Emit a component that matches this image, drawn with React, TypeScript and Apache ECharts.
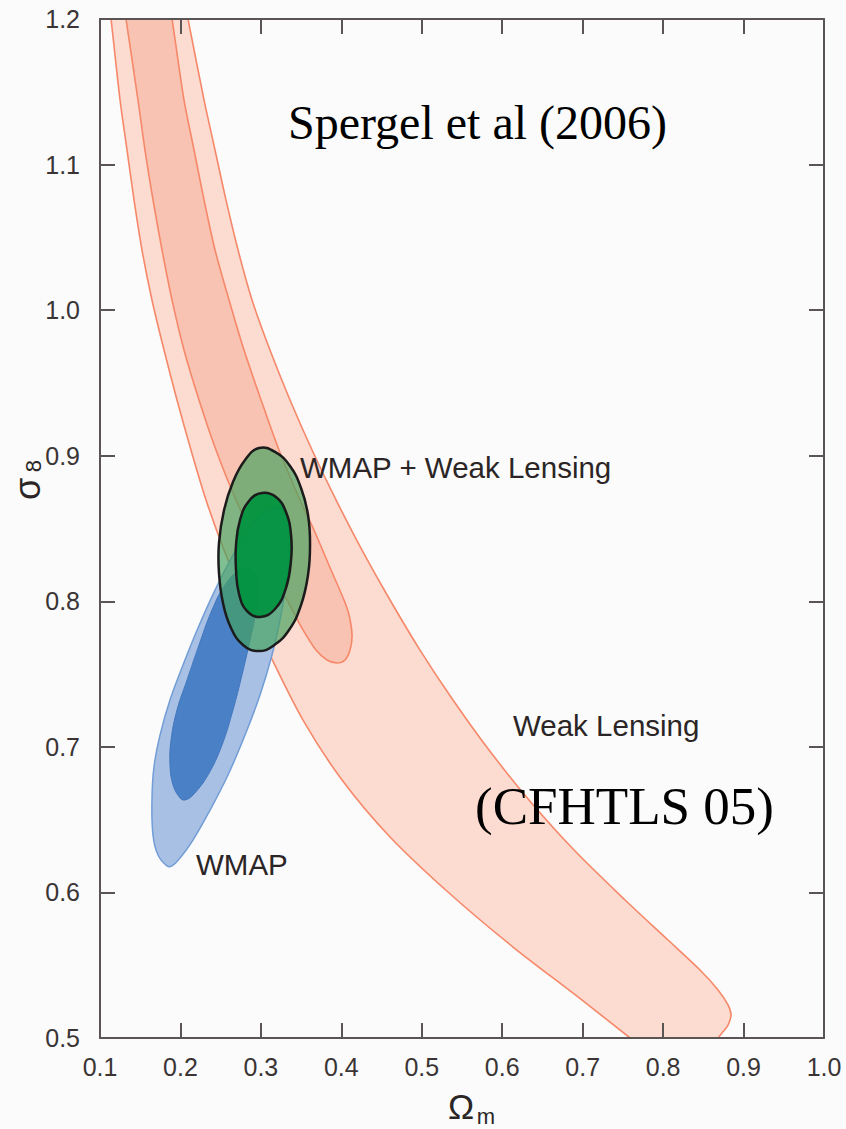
import React, { useEffect, useRef } from "react";
import * as echarts from "echarts";

// Axis ranges and ticks
const X_MIN = 0.1;
const X_MAX = 1.0;
const Y_MIN = 0.5;
const Y_MAX = 1.2;
const TICK_STEP = 0.1;

// Contours: [Omega_m, sigma_8]
const weakLensingOuter: [number, number][] = [
  // lower/left edge, top to bottom
  [0.1075, 1.2268], [0.1137, 1.2], [0.1249, 1.1444], [0.1336, 1.11], [0.1423, 1.0757],
  [0.1522, 1.0413], [0.1646, 1.007], [0.1796, 0.9726], [0.1957, 0.9383], [0.2131, 0.9039],
  [0.2318, 0.8696], [0.2542, 0.8352], [0.2803, 0.8009], [0.3113, 0.7631], [0.3524, 0.7184],
  [0.4009, 0.6772], [0.4605, 0.6381], [0.5339, 0.5996], [0.6134, 0.5625], [0.6942, 0.5282],
  [0.7589, 0.5], [0.7937, 0.4849],
  // upper/right edge, bottom to top
  [0.8583, 0.4849], [0.8683, 0.5], [0.8732, 0.5034], [0.8807, 0.5089], [0.8844, 0.5158],
  [0.8807, 0.5227], [0.8683, 0.533], [0.8459, 0.5467], [0.8061, 0.5673], [0.7527, 0.5948],
  [0.6893, 0.6291], [0.6333, 0.6635], [0.5836, 0.6978], [0.5388, 0.7322], [0.4978, 0.7665],
  [0.4605, 0.8009], [0.4257, 0.8352], [0.3934, 0.8696], [0.3636, 0.9039], [0.3362, 0.9383],
  [0.3113, 0.9726], [0.289, 1.007], [0.2716, 1.0413], [0.2566, 1.0757], [0.243, 1.11],
  [0.2293, 1.1444], [0.2094, 1.2], [0.1995, 1.2268],
];

const weakLensingInner: [number, number][] = [
  [0.1249, 1.2268], [0.1323, 1.2], [0.1472, 1.1444], [0.1559, 1.11], [0.1659, 1.0757],
  [0.1771, 1.0413], [0.1895, 1.007], [0.2044, 0.9726], [0.2231, 0.9383], [0.2442, 0.9039],
  [0.2691, 0.8696], [0.2989, 0.8352], [0.3325, 0.8009], [0.3524, 0.7803], [0.3685, 0.7665],
  [0.3822, 0.7597], [0.3946, 0.7576], [0.4046, 0.7597], [0.4108, 0.7665], [0.4133, 0.7768],
  [0.4096, 0.7906], [0.4033, 0.8009], [0.3872, 0.8215], [0.366, 0.849], [0.3486, 0.8696],
  [0.3225, 0.9039], [0.3002, 0.9383], [0.279, 0.9726], [0.2604, 1.007], [0.243, 1.0413],
  [0.2293, 1.0757], [0.2169, 1.11], [0.2044, 1.1444], [0.1895, 1.2], [0.1808, 1.2268],
];

const wmapOuter: [number, number][] = [
  [0.1833, 0.6182], [0.1721, 0.6257], [0.1659, 0.6394], [0.1646, 0.6635], [0.1671, 0.6862],
  [0.1746, 0.7081], [0.187, 0.7322], [0.2032, 0.7562], [0.2218, 0.7816], [0.243, 0.8077],
  [0.2653, 0.8318], [0.2865, 0.8503], [0.3051, 0.8613], [0.32, 0.8648], [0.33, 0.8613],
  [0.335, 0.849], [0.335, 0.8318], [0.3312, 0.8112], [0.3238, 0.7871], [0.3138, 0.7631],
  [0.2989, 0.7356], [0.2803, 0.7081], [0.2591, 0.6807], [0.2368, 0.6566], [0.2156, 0.636],
  [0.1995, 0.6236], [0.1895, 0.6182],
];

const wmapInner: [number, number][] = [
  [0.1995, 0.6649], [0.1908, 0.6738], [0.187, 0.6875], [0.1883, 0.7047], [0.1957, 0.7253],
  [0.2082, 0.7459], [0.2231, 0.77], [0.2392, 0.794], [0.2554, 0.8112], [0.274, 0.8215],
  [0.289, 0.8215], [0.2952, 0.8112], [0.2939, 0.794], [0.2865, 0.7734], [0.2765, 0.7494],
  [0.2653, 0.7253], [0.2517, 0.7013], [0.2343, 0.6807], [0.2156, 0.6669], [0.2057, 0.6635],
];

const comboOuter: [number, number][] = [
  [0.2977, 0.9053], [0.3176, 0.9026], [0.3362, 0.8929], [0.3499, 0.8778], [0.3586, 0.8593],
  [0.3611, 0.8387], [0.3586, 0.8181], [0.3499, 0.7974], [0.335, 0.7803], [0.3151, 0.7693],
  [0.2964, 0.7658], [0.2778, 0.77], [0.2629, 0.7816], [0.2529, 0.7988], [0.2479, 0.8194],
  [0.2479, 0.84], [0.2542, 0.8627], [0.2653, 0.8819], [0.2803, 0.8971],
];

const comboInner: [number, number][] = [
  [0.3014, 0.8744], [0.3188, 0.8716], [0.3312, 0.8613], [0.3375, 0.8455], [0.3375, 0.8284],
  [0.3312, 0.8091], [0.3176, 0.7947], [0.2989, 0.7892], [0.2828, 0.7933], [0.2728, 0.805],
  [0.2691, 0.8215], [0.2691, 0.8387], [0.274, 0.8558], [0.2852, 0.8689],
];

const SANS = '"Liberation Sans", Arial, Helvetica, sans-serif';
const SERIF = '"Liberation Serif", "Times New Roman", serif';
const AXIS_COLOR = "#5a5455";
const TEXT_COLOR = "#2b2526";

function polygonSeries(
  name: string,
  pts: [number, number][],
  fill: string,
  stroke: string,
  lineWidth: number,
  smooth: number
) {
  return {
    type: "custom",
    name,
    coordinateSystem: "cartesian2d",
    clip: true,
    data: pts,
    encode: { x: 0, y: 1 },
    renderItem: (params: any, api: any) => {
      if (params.dataIndex !== 0) return null;
      return {
        type: "polygon",
        shape: { points: pts.map((p) => api.coord(p)), smooth },
        style: { fill, stroke, lineWidth },
      };
    },
  };
}

function label(text: string, x: number, y: number, font: string, fill: string, align = "left", rotation = 0) {
  return {
    type: "text",
    x,
    y,
    rotation,
    z: 20,
    style: { text, font, fill, align, verticalAlign: "middle", textAlign: align, textVerticalAlign: "middle" },
  };
}

export default function App() {
  const ref = useRef<HTMLDivElement>(null);

  useEffect(() => {
    const chart = echarts.init(ref.current!, null, { renderer: "svg" });
    const axisLine = { show: true, onZero: false, lineStyle: { color: AXIS_COLOR, width: 2 } };
    const axisTick = { show: true, inside: true, length: 15, lineStyle: { color: AXIS_COLOR, width: 2 } };
    const labelStyle = { color: "#3a3435", fontSize: 25, fontFamily: SANS };
    const fmt = (v: number) => v.toFixed(1);

    chart.setOption({
      animation: false,
      backgroundColor: "#fafbfa",
      grid: { left: 100, right: 22, top: 19, bottom: 91 },
      xAxis: [
        {
          type: "value", min: X_MIN, max: X_MAX, interval: TICK_STEP, position: "bottom",
          axisLine, axisTick, splitLine: { show: false }, z: 10,
          axisLabel: { ...labelStyle, margin: 16, formatter: fmt },
        },
        {
          type: "value", min: X_MIN, max: X_MAX, interval: TICK_STEP, position: "top",
          axisLine, axisTick, splitLine: { show: false }, axisLabel: { show: false }, z: 10,
        },
      ],
      yAxis: [
        {
          type: "value", min: Y_MIN, max: Y_MAX, interval: TICK_STEP, position: "left",
          axisLine, axisTick, splitLine: { show: false }, z: 10,
          axisLabel: { ...labelStyle, margin: 20, formatter: fmt },
        },
        {
          type: "value", min: Y_MIN, max: Y_MAX, interval: TICK_STEP, position: "right",
          axisLine, axisTick, splitLine: { show: false }, axisLabel: { show: false }, z: 10,
        },
      ],
      series: [
        polygonSeries("Weak Lensing 2σ", weakLensingOuter, "#fcdbd0", "#f6886a", 1.6, 0.3),
        polygonSeries("Weak Lensing 1σ", weakLensingInner, "#f8c3b2", "#f6886a", 1.6, 0.3),
        polygonSeries("WMAP 2σ", wmapOuter, "#a8c0e3", "#729dd7", 1.5, 0.4),
        polygonSeries("WMAP 1σ", wmapInner, "#4a80c5", "#4277c0", 1, 0.4),
        polygonSeries("WMAP + WL 2σ", comboOuter, "rgba(70,162,94,0.68)", "#1b1b1b", 2.5, 0.45),
        polygonSeries("WMAP + WL 1σ", comboInner, "rgba(0,146,63,0.92)", "#1b1b1b", 2.5, 0.45),
      ],
      graphic: [
        label("Spergel et al (2006)", 288, 122, `48px ${SERIF}`, "#000"),
        label("(CFHTLS 05)", 475, 806, `53px ${SERIF}`, "#000"),
        label("WMAP + Weak Lensing", 300, 467, `29.5px ${SANS}`, TEXT_COLOR),
        label("Weak Lensing", 513, 725, `29.5px ${SANS}`, TEXT_COLOR),
        label("WMAP", 196, 864, `29.5px ${SANS}`, TEXT_COLOR),
        label("Ω", 461, 1106, `35px ${SANS}`, TEXT_COLOR, "center"),
        label("m", 486, 1116, `22px ${SANS}`, TEXT_COLOR, "center"),
        label("σ", 27, 489, `36px ${SANS}`, TEXT_COLOR, "center", Math.PI / 2),
        label("8", 33, 466, `22px ${SANS}`, TEXT_COLOR, "center", Math.PI / 2),
      ],
    });
    return () => chart.dispose();
  }, []);

  return (
    <div
      ref={ref}
      style={{ position: "fixed", left: 0, top: 0, width: 846, height: 1129 }}
    />
  );
}
